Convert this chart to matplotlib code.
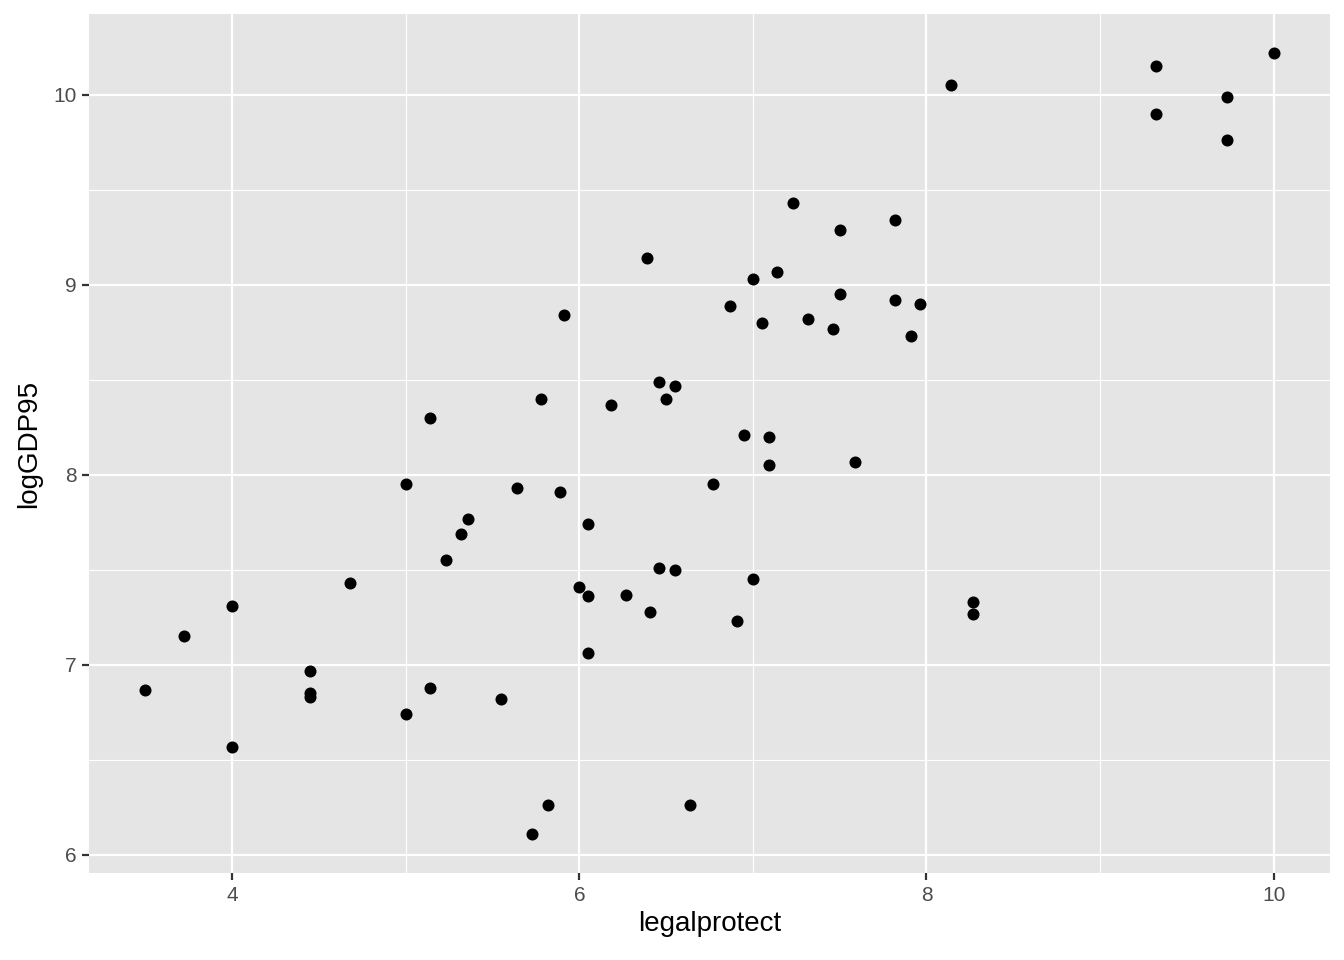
import matplotlib
matplotlib.use('Agg')
import matplotlib.pyplot as plt
import numpy as np

plt.rcParams['font.family'] = ['Liberation Sans', 'DejaVu Sans']

# legal protection score vs log GDP per capita 1995
legalprotect = [3.50, 3.72, 4.00, 4.00, 4.45, 4.45, 4.45, 4.68, 5.00, 5.00,
                5.14, 5.14, 5.23, 5.32, 5.36, 5.55, 5.64, 5.78, 5.73, 5.82,
                5.89, 5.91, 6.00, 6.05, 6.05, 6.05, 6.18, 6.27, 6.39, 6.41,
                6.46, 6.46, 6.50, 6.55, 6.55, 6.64, 6.77, 6.87, 6.91, 6.95,
                7.00, 7.00, 7.05, 7.09, 7.09, 7.14, 7.23, 7.32, 7.46, 7.50,
                7.50, 7.59, 7.82, 7.82, 7.91, 7.96, 8.14, 8.27, 8.27, 9.32,
                9.32, 9.73, 9.73, 10.00]
logGDP95 = [6.87, 7.15, 7.31, 6.57, 6.97, 6.85, 6.83, 7.43, 7.95, 6.74,
            8.30, 6.88, 7.55, 7.69, 7.77, 6.82, 7.93, 8.40, 6.11, 6.26,
            7.91, 8.84, 7.41, 7.74, 7.36, 7.06, 8.37, 7.37, 9.14, 7.28,
            8.49, 7.51, 8.40, 8.47, 7.50, 6.26, 7.95, 8.89, 7.23, 8.21,
            9.03, 7.45, 8.80, 8.20, 8.05, 9.07, 9.43, 8.82, 8.77, 9.29,
            8.95, 8.07, 9.34, 8.92, 8.73, 8.90, 10.05, 7.33, 7.27, 10.15,
            9.90, 9.99, 9.76, 10.22]

fig = plt.figure(figsize=(13.44, 9.6), dpi=100)
ax = fig.add_axes([0.0662, 0.0906, 0.9234, 0.8948])

ax.set_facecolor('#E5E5E5')
for s in ax.spines.values():
    s.set_visible(False)

# ggplot default 5% expansion
xmin, xmax = min(legalprotect), max(legalprotect)
ymin, ymax = min(logGDP95), max(logGDP95)
xpad = (xmax - xmin) * 0.05
ypad = (ymax - ymin) * 0.05
ax.set_xlim(xmin - xpad, xmax + xpad)
ax.set_ylim(ymin - ypad, ymax + ypad)

ax.set_xticks([4, 6, 8, 10])
ax.set_yticks([6, 7, 8, 9, 10])
ax.set_xticks([5, 7, 9], minor=True)
ax.set_yticks([6.5, 7.5, 8.5, 9.5], minor=True)
ax.grid(True, which='major', color='white', linewidth=1.6)
ax.grid(True, which='minor', color='white', linewidth=0.8)
ax.set_axisbelow(True)

ax.tick_params(axis='both', which='major', length=5, width=1.6, color='#333333',
               labelsize=15, labelcolor='#4D4D4D', pad=4)
ax.tick_params(axis='both', which='minor', length=0)

ax.scatter(legalprotect, logGDP95, s=75, color='black', linewidths=0, zorder=3)

ax.set_xlabel('legalprotect', fontsize=20, labelpad=5)
ax.set_ylabel('logGDP95', fontsize=20, labelpad=8)

plt.savefig('out.png', dpi=100)
